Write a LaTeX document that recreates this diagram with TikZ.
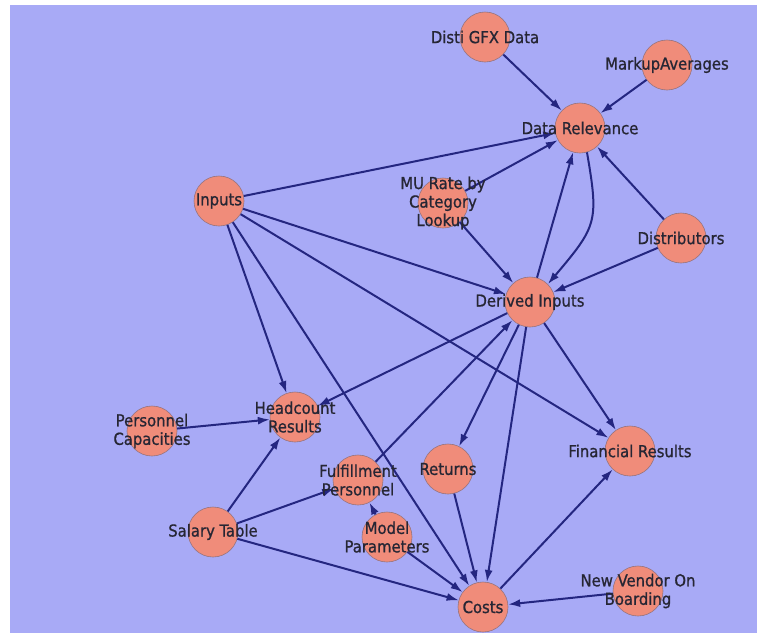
\documentclass[tikz,border=0pt]{standalone}
\usepackage{fontspec}
\setmainfont{DejaVu Sans Condensed}
\newfontfamily\lblfont{DejaVu Sans Condensed}[FakeBold=0.9]
\usetikzlibrary{arrows.meta}
\definecolor{canvas}{RGB}{168,170,246}
\definecolor{vfill}{RGB}{240,140,122}
\definecolor{vline}{RGB}{150,115,125}
\definecolor{edgecol}{RGB}{36,38,128}
\definecolor{txt}{RGB}{38,38,52}
\begin{document}
\begin{tikzpicture}[x=1pt,y=-1pt,
  vertex/.style={circle,fill=vfill,draw=vline,line width=0.6pt,minimum size=50pt,inner sep=0pt},
  lbl/.style={text=txt,font=\lblfont\fontsize{16.5}{18.5}\selectfont,align=center,inner sep=0pt},
  link/.style={draw=edgecol,line width=2pt,-{Latex[length=12pt,width=8pt]}}]
\useasboundingbox (0,0) rectangle (763,635);
\fill[white] (0,0) rectangle (763,635);
\fill[canvas] (10,5) rectangle (757,633);

% vertices
\node[vertex] (dgfx) at (485,37) {};
\node[vertex] (mkav) at (667,65) {};
\node[vertex] (drel) at (580,128) {};
\node[vertex] (inp)  at (219,201) {};
\node[vertex] (mur)  at (443,203) {};
\node[vertex] (dist) at (681,238) {};
\node[vertex] (dinp) at (530,302) {};
\node[vertex] (pcap) at (152,431) {};
\node[vertex] (hcr)  at (295,417) {};
\node[vertex] (ful)  at (358,480) {};
\node[vertex] (ret)  at (448,469) {};
\node[vertex] (fin)  at (630,451) {};
\node[vertex] (sal)  at (213,532) {};
\node[vertex] (mod)  at (387,537) {};
\node[vertex] (cost) at (483,607) {};
\node[vertex] (nvo)  at (638,591) {};

% dependencies
\draw[link] (dgfx) -- (drel);
\draw[link] (mkav) -- (drel);
\draw[link] (inp) -- (drel);
\draw[link] (mur) -- (drel);
\draw[link] (dinp) -- (drel);
\draw[link] (drel.-74) .. controls (599,222) and (597,226) .. (dinp.45);
\draw[link] (dist) -- (drel);
\draw[link] (dist) -- (dinp);
\draw[link] (mur) -- (dinp);
\draw[link] (inp) -- (dinp);
\draw[link] (inp) -- (hcr);
\draw[link] (inp) -- (cost);
\draw[link] (inp) -- (fin);
\draw[link] (dinp) -- (hcr);
\draw[link] (ful) -- (dinp);
\draw[link] (dinp) -- (ret);
\draw[link] (dinp) -- (cost);
\draw[link] (dinp) -- (fin);
\draw[link] (pcap) -- (hcr);
\draw[link] (sal) -- (hcr);
\draw[link] (sal) -- (ful);
\draw[link] (sal) -- (cost);
\draw[link] (mod) -- (ful);
\draw[link] (mod) -- (cost);
\draw[link] (ret) -- (cost);
\draw[link] (cost) -- (fin);
\draw[link] (nvo) -- (cost);

% labels
\node[lbl] at (dgfx) {Disti GFX Data};
\node[lbl] at (mkav) {MarkupAverages};
\node[lbl] at (drel) {Data Relevance};
\node[lbl] at (inp)  {Inputs};
\node[lbl] at (mur)  {MU Rate by\\Category\\Lookup};
\node[lbl] at (dist) {Distributors};
\node[lbl] at (dinp) {Derived Inputs};
\node[lbl] at (pcap) {Personnel\\Capacities};
\node[lbl] at (hcr)  {Headcount\\Results};
\node[lbl] at (ful)  {Fulfillment\\Personnel};
\node[lbl] at (ret)  {Returns};
\node[lbl] at (fin)  {Financial Results};
\node[lbl] at (sal)  {Salary Table};
\node[lbl] at (mod)  {Model\\Parameters};
\node[lbl] at (cost) {Costs};
\node[lbl] at (nvo)  {New Vendor On\\Boarding};
\end{tikzpicture}
\end{document}
